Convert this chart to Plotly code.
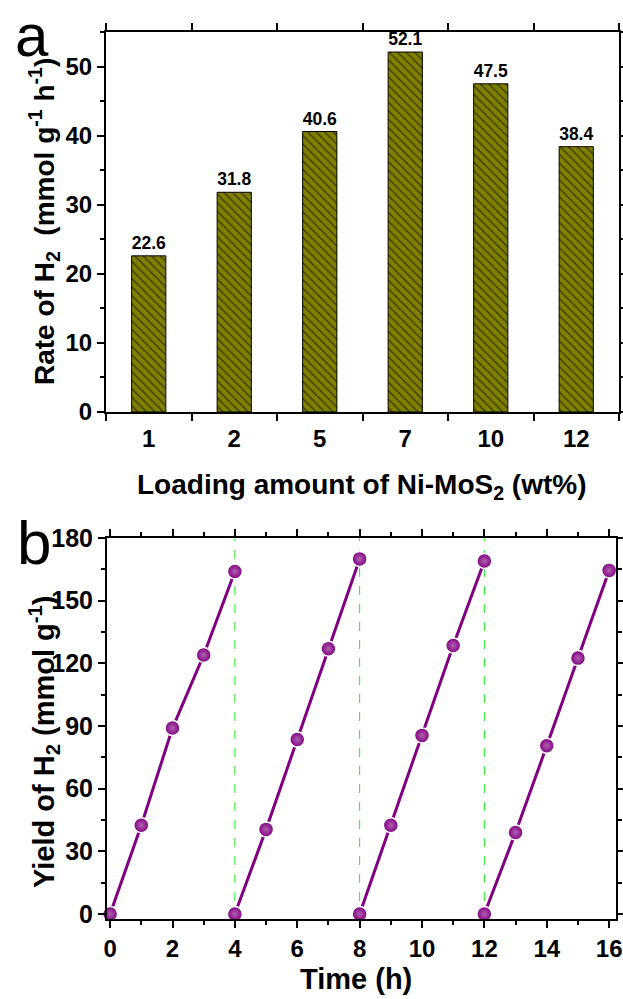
import plotly.graph_objects as go

# ---- data ----
loading = ["1", "2", "5", "7", "10", "12"]
rate = [22.6, 31.8, 40.6, 52.1, 47.5, 38.4]

cycle_time = [[0, 1, 2, 3, 4], [4, 5, 6, 7, 8], [8, 9, 10, 11, 12], [12, 13, 14, 15, 16]]
cycle_yield = [[0, 42.5, 89, 124, 164], [0, 40.5, 83.5, 127, 170],
               [0, 42.5, 85.5, 128.5, 169], [0, 39, 80.5, 122.5, 164.5]]
cycle_boundaries = [4, 8, 12]

W, H = 623, 999
FONT = "Arial, Liberation Sans, sans-serif"
PURPLE = "#800080"
OLIVE = "#808000"


def px(x):
    return x / W


def py(y):
    return 1 - y / H


fig = go.Figure()

fig.add_trace(go.Bar(
    x=loading, y=rate, width=0.4,
    marker=dict(color=OLIVE, line=dict(color="black", width=1),
                pattern=dict(shape="\\", fgcolor="black", bgcolor=OLIVE, size=6, solidity=0.25)),
    text=[f"<b>{v:.1f}</b>" for v in rate], textposition="outside",
    textfont=dict(family=FONT, size=23, color="black"),
    cliponaxis=False, xaxis="x", yaxis="y", showlegend=False,
))

for t, yv in zip(cycle_time, cycle_yield):
    fig.add_trace(go.Scatter(
        x=t, y=yv, mode="lines+markers", xaxis="x2", yaxis="y2", showlegend=False,
        line=dict(color=PURPLE, width=3),
        marker=dict(color=PURPLE, size=15, line=dict(color="white", width=1.5),
                    gradient=dict(type="radial", color="#b060b0")),
        cliponaxis=False,
    ))

for xb in cycle_boundaries:
    fig.add_shape(type="line", xref="x2", yref="y2 domain", x0=xb, x1=xb, y0=0, y1=1,
                  line=dict(color="#22ee22", width=1, dash="dash"), layer="below")

axis_common = dict(showline=True, linecolor="black", linewidth=2, mirror="ticks",
                   ticks="outside", ticklen=7, tickwidth=2, tickcolor="black",
                   showgrid=False, zeroline=False, automargin=False)

fig.update_layout(
    width=W, height=H, margin=dict(l=0, r=0, t=0, b=0, autoexpand=False),
    paper_bgcolor="white", plot_bgcolor="white",
    font=dict(family=FONT, color="black"),
    xaxis=dict(domain=[px(106), px(619)], anchor="y", type="category",
               categoryorder="array", categoryarray=loading, range=[-0.5, 5.5],
               tickson="boundaries", ticklabelstandoff=4,
               tickfont=dict(family=FONT, size=24, weight="bold"),
               **axis_common),
    yaxis=dict(domain=[py(412), py(32)], anchor="x", range=[0, 55], dtick=10,
               minor=dict(dtick=5, ticks="outside", ticklen=4, tickwidth=2, tickcolor="black"),
               tickfont=dict(family=FONT, size=24, weight="bold"),
               **axis_common),
    xaxis2=dict(domain=[px(107), px(616)], anchor="y2", range=[-0.1, 16.22], dtick=2,
                minor=dict(dtick=1, ticks="outside", ticklen=4, tickwidth=2, tickcolor="black"),
                tickfont=dict(family=FONT, size=24, weight="bold"),
                **axis_common),
    yaxis2=dict(domain=[py(919), py(538)], anchor="x2", range=[-2.4, 180], tick0=0, dtick=30,
                minor=dict(dtick=15, ticks="outside", ticklen=4, tickwidth=2, tickcolor="black"),
                tickfont=dict(family=FONT, size=25, weight="bold"),
                **axis_common),
)

annos = [
    dict(text="<b>Loading amount of Ni-MoS<sub>2</sub> (wt%)</b>", x=px(362), y=py(486), size=28, angle=0, ya="middle"),
    dict(text="<b>Rate of H<sub>2</sub>  (mmol g<sup>-1</sup> h<sup>-1</sup>)</b>", x=px(44), y=py(222), size=28, angle=-90, ya="middle"),
    dict(text="<b>Time (h)</b>", x=px(356), y=py(979), size=29, angle=0, ya="middle"),
    dict(text="<b>Yield of H<sub>2</sub> (mmol g<sup>-1</sup>)</b>", x=px(44), y=py(742), size=29, angle=-90, ya="middle"),
    dict(text="a", x=px(32), y=py(0), size=60, angle=0, ya="top"),
    dict(text="b", x=px(34), y=py(542), size=62, angle=0, ya="middle"),
]
for a in annos:
    fig.add_annotation(text=a["text"], x=a["x"], y=a["y"], xref="paper", yref="paper",
                       xanchor="center", yanchor=a["ya"], showarrow=False, textangle=a["angle"],
                       font=dict(family=FONT, size=a["size"], color="black"))

fig.write_html("out.html", config={"displayModeBar": False},
               post_script="document.body.style.margin='0';document.body.style.padding='0';")
